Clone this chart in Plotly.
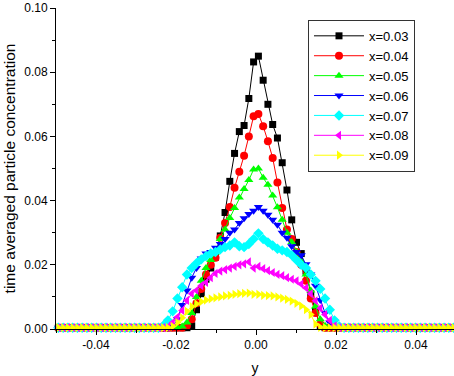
import plotly.graph_objects as go

# x grid (positive half, mirrored for negative half)
XP = [0.00060, 0.00179, 0.00298, 0.00417, 0.00536, 0.00655, 0.00774, 0.00893,
      0.01012, 0.01131, 0.01250, 0.01369, 0.01488, 0.01607, 0.01726, 0.01845,
      0.01964, 0.02083, 0.02202, 0.02321, 0.02440, 0.02560, 0.02679, 0.02798,
      0.02917, 0.03036, 0.03155, 0.03274, 0.03393, 0.03512, 0.03631, 0.03750,
      0.03869, 0.03988, 0.04107, 0.04226, 0.04345, 0.04464, 0.04583, 0.04702,
      0.04821, 0.04940]
X = [-v for v in reversed(XP)] + XP

Y003 = ([0.0004, 0.0004, 0.0004, 0.0004, 0.0004, 0.0004, 0.0004, 0.0004, 0.0004, 0.0004,
         0.0004, 0.0004, 0.0004, 0.0004, 0.0004, 0.0004, 0.0004, 0.0004, 0.0004, 0.0004,
         0.0004, 0.0004, 0.0004, 0.0004, 0.0004, 0.0004, 0.0004, 0.0004]
        + [0.001, 0.006, 0.011, 0.0155, 0.019, 0.0224, 0.029, 0.0363, 0.046, 0.0547,
           0.0615, 0.0634, 0.0718, 0.0832, 0.085, 0.0775, 0.070, 0.0637, 0.0595, 0.0518,
           0.0433, 0.034, 0.027, 0.0235, 0.018, 0.011, 0.0055, 0.001]
        + [0.0004, 0.0004, 0.0004, 0.0004, 0.0004, 0.0004, 0.0004, 0.0004, 0.0004, 0.0004,
           0.0004, 0.0004, 0.0004, 0.0004, 0.0004, 0.0004, 0.0004, 0.0004, 0.0004, 0.0004,
           0.0004, 0.0004, 0.0004, 0.0004, 0.0004, 0.0004, 0.0004, 0.0004])

Y004 = ([0.0004, 0.0004, 0.0004, 0.0004, 0.0004, 0.0004, 0.0004, 0.0004, 0.0004, 0.0004,
         0.0004, 0.0004, 0.0004, 0.0004, 0.0004, 0.0004, 0.0004, 0.0004, 0.0004, 0.0004,
         0.0004, 0.0004, 0.0004, 0.0004, 0.0004, 0.0004, 0.0004]
        + [0.001, 0.003, 0.008, 0.0125, 0.017, 0.020, 0.0222, 0.0284, 0.033, 0.038,
           0.044, 0.049, 0.054, 0.060, 0.0663, 0.067, 0.0632, 0.0585, 0.0533, 0.0456,
           0.0377, 0.031, 0.028, 0.024, 0.020, 0.015, 0.0095, 0.005, 0.0015]
        + [0.0004, 0.0004, 0.0004, 0.0004, 0.0004, 0.0004, 0.0004, 0.0004, 0.0004, 0.0004,
           0.0004, 0.0004, 0.0004, 0.0004, 0.0004, 0.0004, 0.0004, 0.0004, 0.0004, 0.0004,
           0.0004, 0.0004, 0.0004, 0.0004, 0.0004, 0.0004, 0.0004, 0.0004])

Y005 = ([0.0004, 0.0004, 0.0004, 0.0004, 0.0004, 0.0004, 0.0004, 0.0004, 0.0004, 0.0004,
         0.0004, 0.0004, 0.0004, 0.0004, 0.0004, 0.0004, 0.0004, 0.0004, 0.0004, 0.0004,
         0.0004, 0.0004, 0.0004, 0.0004, 0.0004, 0.0004]
        + [0.0008, 0.002, 0.005, 0.010, 0.015, 0.019, 0.0215, 0.0238, 0.028, 0.031,
           0.0346, 0.0377, 0.041, 0.0436, 0.0464, 0.0497, 0.050, 0.0471, 0.0449, 0.0416,
           0.0379, 0.034, 0.030, 0.027, 0.024, 0.021, 0.017, 0.012, 0.007, 0.003, 0.001]
        + [0.0004, 0.0004, 0.0004, 0.0004, 0.0004, 0.0004, 0.0004, 0.0004, 0.0004, 0.0004,
           0.0004, 0.0004, 0.0004, 0.0004, 0.0004, 0.0004, 0.0004, 0.0004, 0.0004, 0.0004,
           0.0004, 0.0004, 0.0004, 0.0004, 0.0004, 0.0004, 0.0004])

Y006 = ([0.0004, 0.0004, 0.0004, 0.0004, 0.0004, 0.0004, 0.0004, 0.0004, 0.0004, 0.0004,
         0.0004, 0.0004, 0.0004, 0.0004, 0.0004, 0.0004, 0.0004, 0.0004, 0.0004, 0.0004,
         0.0004, 0.0004, 0.0004, 0.0004]
        + [0.0007, 0.003, 0.0075, 0.012, 0.016, 0.019, 0.022, 0.0235, 0.024, 0.0253,
           0.0265, 0.028, 0.030, 0.031, 0.033, 0.0345, 0.0358, 0.0368, 0.038, 0.0368,
           0.0356, 0.034, 0.0325, 0.030, 0.0284, 0.0258, 0.024, 0.023, 0.0202, 0.017,
           0.0135, 0.009, 0.005, 0.002, 0.0006]
        + [0.0004, 0.0004, 0.0004, 0.0004, 0.0004, 0.0004, 0.0004, 0.0004, 0.0004, 0.0004,
           0.0004, 0.0004, 0.0004, 0.0004, 0.0004, 0.0004, 0.0004, 0.0004, 0.0004, 0.0004,
           0.0004, 0.0004, 0.0004, 0.0004, 0.0004])

Y007 = ([0.0004, 0.0004, 0.0004, 0.0004, 0.0004, 0.0004, 0.0004, 0.0004, 0.0004, 0.0004,
         0.0004, 0.0004, 0.0004, 0.0004, 0.0004, 0.0004, 0.0004, 0.0004, 0.0004, 0.0004,
         0.0004, 0.0004]
        + [0.001, 0.0027, 0.0055, 0.0095, 0.013, 0.017, 0.019, 0.0205, 0.0217, 0.0227,
           0.0235, 0.024, 0.0248, 0.0255, 0.026, 0.027, 0.0258, 0.0255, 0.0265, 0.028,
           0.0298, 0.028, 0.027, 0.026, 0.025, 0.0245, 0.024, 0.023, 0.0215, 0.020,
           0.019, 0.017, 0.015, 0.0125, 0.0095, 0.006, 0.0027, 0.0008]
        + [0.0004, 0.0004, 0.0004, 0.0004, 0.0004, 0.0004, 0.0004, 0.0004, 0.0004, 0.0004,
           0.0004, 0.0004, 0.0004, 0.0004, 0.0004, 0.0004, 0.0004, 0.0004, 0.0004, 0.0004,
           0.0004, 0.0004, 0.0004, 0.0004])

Y008 = ([0.0004, 0.0004, 0.0004, 0.0004, 0.0004, 0.0004, 0.0004, 0.0004, 0.0004, 0.0004,
         0.0004, 0.0004, 0.0004, 0.0004, 0.0004, 0.0004, 0.0004, 0.0004, 0.0004, 0.0004,
         0.0004, 0.0004, 0.0004]
        + [0.0007, 0.002, 0.0037, 0.0058, 0.0089, 0.011, 0.012, 0.0135, 0.0145, 0.016,
           0.0173, 0.018, 0.0185, 0.019, 0.0195, 0.020, 0.0203, 0.0209, 0.019, 0.0195,
           0.0188, 0.0182, 0.0176, 0.017, 0.0166, 0.016, 0.0155, 0.015, 0.014, 0.0128,
           0.011, 0.0088, 0.0065, 0.0045, 0.0027, 0.001]
        + [0.0004, 0.0004, 0.0004, 0.0004, 0.0004, 0.0004, 0.0004, 0.0004, 0.0004, 0.0004,
           0.0004, 0.0004, 0.0004, 0.0004, 0.0004, 0.0004, 0.0004, 0.0004, 0.0004, 0.0004,
           0.0004, 0.0004, 0.0004, 0.0004, 0.0004])

Y009 = ([0.0004, 0.0004, 0.0004, 0.0004, 0.0004, 0.0004, 0.0004, 0.0004, 0.0004, 0.0004,
         0.0004, 0.0004, 0.0004, 0.0004, 0.0004, 0.0004, 0.0004, 0.0004, 0.0004, 0.0004,
         0.0004, 0.0004, 0.0004, 0.0004]
        + [0.0008, 0.002, 0.0035, 0.0055, 0.007, 0.0078, 0.0085, 0.009, 0.0094, 0.0097,
           0.010, 0.0103, 0.0105, 0.0108, 0.011, 0.0111, 0.0112, 0.0108, 0.0108, 0.0105,
           0.0104, 0.0103, 0.010, 0.0096, 0.0092, 0.0087, 0.008, 0.0072, 0.006, 0.0045,
           0.0015, 0.0005]
        + [0.0004, 0.0004, 0.0004, 0.0004, 0.0004, 0.0004, 0.0004, 0.0004, 0.0004, 0.0004,
           0.0004, 0.0004, 0.0004, 0.0004, 0.0004, 0.0004, 0.0004, 0.0004, 0.0004, 0.0004,
           0.0004, 0.0004, 0.0004, 0.0004, 0.0004, 0.0004, 0.0004, 0.0004])

SERIES_NAMES = ["x=0.03", "x=0.04", "x=0.05", "x=0.06", "x=0.07", "x=0.08", "x=0.09"]
SERIES_Y = [Y003, Y004, Y005, Y006, Y007, Y008, Y009]
COLORS = ["#000000", "#FF0000", "#00FF00", "#0000FF", "#00FFFF", "#FF00FF", "#FFFF00"]
SYMBOLS = ["square", "circle", "triangle-up", "triangle-down", "diamond",
           "triangle-left", "triangle-right"]
SIZES = [7, 8, 8, 8, 8, 8, 8]

X_TICKS = [-0.04, -0.02, 0.0, 0.02, 0.04]
X_TICK_LABELS = ["-0.04", "-0.02", "0.00", "0.02", "0.04"]
Y_TICKS = [0.0, 0.02, 0.04, 0.06, 0.08, 0.10]
Y_TICK_LABELS = ["0.00", "0.02", "0.04", "0.06", "0.08", "0.10"]

for s in SERIES_Y:
    assert len(s) == len(X), len(s)

fig = go.Figure()
for name, ys, c, sym, sz in zip(SERIES_NAMES, SERIES_Y, COLORS, SYMBOLS, SIZES):
    fig.add_trace(go.Scatter(
        x=X, y=ys, name=name, mode="lines+markers",
        line=dict(color=c, width=1),
        marker=dict(symbol=sym, size=sz, color=c, line=dict(width=0)),
        cliponaxis=False,
    ))

axis_common = dict(
    showline=True, linecolor="black", linewidth=1, mirror=False,
    showgrid=False, zeroline=False,
    ticks="outside", ticklen=5, tickwidth=1, tickcolor="black",
    tickfont=dict(size=12, color="black"),
)

fig.update_layout(
    width=454, height=376,
    margin=dict(l=56, r=0, t=8, b=44),
    paper_bgcolor="white", plot_bgcolor="white",
    font=dict(family="Liberation Sans, Arial, sans-serif", size=12, color="black"),
    xaxis=dict(range=[-0.05, 0.0495], tickmode="array", tickvals=X_TICKS,
               ticktext=X_TICK_LABELS,
               minor=dict(ticks="outside", ticklen=3, tickcolor="black", dtick=0.01, tick0=0),
               title=dict(text="y", font=dict(size=14), standoff=14),
               **axis_common),
    yaxis=dict(range=[0, 0.1], tickmode="array", tickvals=Y_TICKS,
               ticktext=Y_TICK_LABELS,
               minor=dict(ticks="outside", ticklen=3, tickcolor="black", dtick=0.01, tick0=0),
               title=dict(text="time averaged particle concentration", font=dict(size=15.5),
                          standoff=4),
               **axis_common),
    legend=dict(x=0.902, y=0.963, xanchor="right", yanchor="top",
                bordercolor="#333333", borderwidth=1, bgcolor="white",
                font=dict(size=13), tracegroupgap=0, itemwidth=50),
    showlegend=True,
)

fig.write_html("out.html")
